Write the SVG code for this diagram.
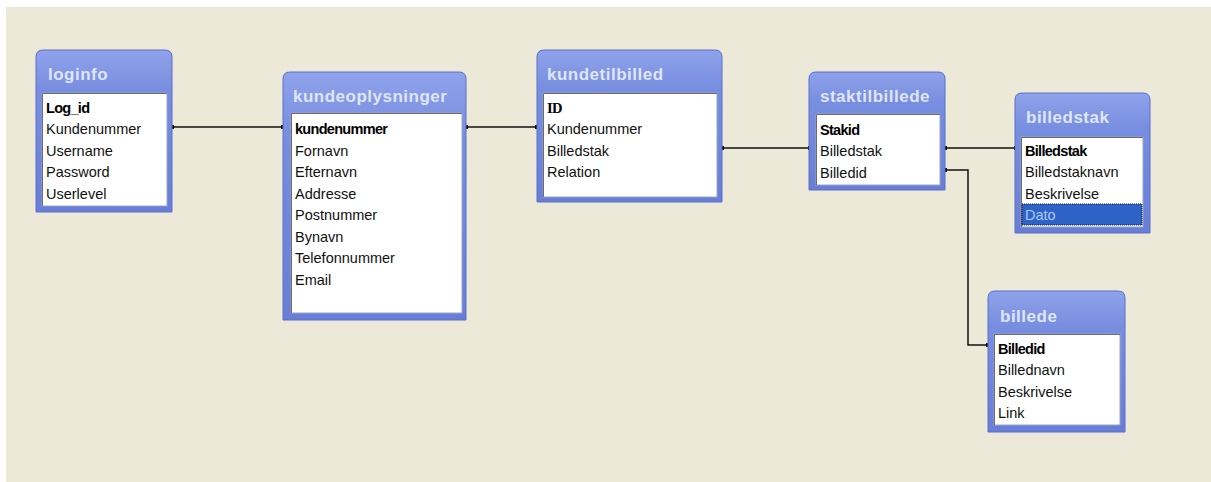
<svg xmlns="http://www.w3.org/2000/svg" width="1211" height="482" viewBox="0 0 1211 482">
<defs>
<linearGradient id="hdr" x1="0" y1="0" x2="0" y2="1">
<stop offset="0" stop-color="#8fa2ea"/>
<stop offset="0.25" stop-color="#788ee0"/>
<stop offset="1" stop-color="#687ed6"/>
</linearGradient>
<marker id="dot" viewBox="0 0 4 4" refX="2" refY="2" markerWidth="4" markerHeight="4" markerUnits="userSpaceOnUse">
<rect x="0" y="0" width="4" height="4" fill="#000"/>
</marker>
<style>
.frame{fill:url(#hdr);stroke:#5a6ecb;stroke-width:1}
.list{fill:#fff;stroke:#9aa3c8;stroke-width:1}
.inset{fill:none;stroke:#6b6b6b;stroke-width:1}
.title{font-family:"Liberation Sans",Arial,sans-serif;font-weight:bold;font-size:17px;letter-spacing:0.5px;fill:#dfe6fa}
.f{font-family:"Liberation Sans",Arial,sans-serif;font-size:14.5px;fill:#111}
.k{font-weight:bold;fill:#000;letter-spacing:-0.7px}
.conn{fill:none;stroke:#111;stroke-width:1.5;marker-start:url(#dot);marker-end:url(#dot)}
</style>
</defs>
<rect x="0" y="0" width="1211" height="482" fill="#ffffff"/>
<rect x="6" y="7" width="1205" height="475" fill="#ece9d8"/>

<g id="connectors">
<path class="conn" d="M172,127 H283"/>
<path class="conn" d="M466,127 H537"/>
<path class="conn" d="M722,148 H810"/>
<path class="conn" d="M945,148 H1016"/>
<path class="conn" d="M945,170 H968 V345 H988"/>
</g>

<g id="loginfo">
<path class="frame" d="M36,212 V57 Q36,50 43,50 H165 Q172,50 172,57 V212 Z"/>
<rect class="list" x="42" y="93" width="125" height="113"/>
<path class="inset" d="M42.5,206 V93.5 H167"/>
<text class="title" x="48" y="80">loginfo</text>
<text class="f k" x="46" y="113">Log_id</text>
<text class="f" x="46" y="134">Kundenummer</text>
<text class="f" x="46" y="156">Username</text>
<text class="f" x="46" y="177">Password</text>
<text class="f" x="46" y="199">Userlevel</text>
</g>

<g id="kundeoplysninger">
<path class="frame" d="M283,320 V79 Q283,72 290,72 H459 Q466,72 466,79 V320 Z"/>
<rect class="list" x="291" y="113" width="171" height="200"/>
<path class="inset" d="M291.5,313 V113.5 H462"/>
<text class="title" x="293" y="102">kundeoplysninger</text>
<text class="f k" x="295" y="134">kundenummer</text>
<text class="f" x="295" y="156">Fornavn</text>
<text class="f" x="295" y="177">Efternavn</text>
<text class="f" x="295" y="199">Addresse</text>
<text class="f" x="295" y="220">Postnummer</text>
<text class="f" x="295" y="242">Bynavn</text>
<text class="f" x="295" y="263">Telefonnummer</text>
<text class="f" x="295" y="285">Email</text>
</g>

<g id="kundetilbilled">
<path class="frame" d="M537,202 V57 Q537,50 544,50 H715 Q722,50 722,57 V202 Z"/>
<rect class="list" x="543" y="93" width="174" height="104"/>
<path class="inset" d="M543.5,197 V93.5 H717"/>
<text class="title" x="547" y="80">kundetilbilled</text>
<text class="k" x="547" y="113" style="font-family:'Liberation Serif',serif;font-size:14.5px">ID</text>
<text class="f" x="547" y="134">Kundenummer</text>
<text class="f" x="547" y="156">Billedstak</text>
<text class="f" x="547" y="177">Relation</text>
</g>

<g id="staktilbillede">
<path class="frame" d="M809,190 V79 Q809,72 816,72 H938 Q945,72 945,79 V190 Z"/>
<rect class="list" x="816" y="114" width="124" height="71"/>
<path class="inset" d="M816.5,185 V114.5 H940"/>
<text class="title" x="820" y="102">staktilbillede</text>
<text class="f k" x="820" y="135">Stakid</text>
<text class="f" x="820" y="156">Billedstak</text>
<text class="f" x="820" y="178">Billedid</text>
</g>

<g id="billedstak">
<path class="frame" d="M1015,233 V100 Q1015,93 1022,93 H1143 Q1150,93 1150,100 V233 Z"/>
<rect class="list" x="1021" y="137" width="122" height="90"/>
<path class="inset" d="M1021.5,227 V137.5 H1143"/>
<rect x="1022" y="204" width="120" height="21" fill="#2f62c6" stroke="#0a1a40" stroke-width="1" stroke-dasharray="1,1"/>
<text class="title" x="1026" y="123">billedstak</text>
<text class="f k" x="1025" y="156">Billedstak</text>
<text class="f" x="1025" y="177">Billedstaknavn</text>
<text class="f" x="1025" y="199">Beskrivelse</text>
<text class="f" x="1025" y="220" style="fill:#a9c8f5">Dato</text>
</g>

<g id="billede">
<path class="frame" d="M988,432 V298 Q988,291 995,291 H1118 Q1125,291 1125,298 V432 Z"/>
<rect class="list" x="994" y="334" width="126" height="91"/>
<path class="inset" d="M994.5,425 V334.5 H1120"/>
<text class="title" x="1000" y="322">billede</text>
<text class="f k" x="998" y="354">Billedid</text>
<text class="f" x="998" y="375">Billednavn</text>
<text class="f" x="998" y="397">Beskrivelse</text>
<text class="f" x="998" y="418">Link</text>
</g>
</svg>
